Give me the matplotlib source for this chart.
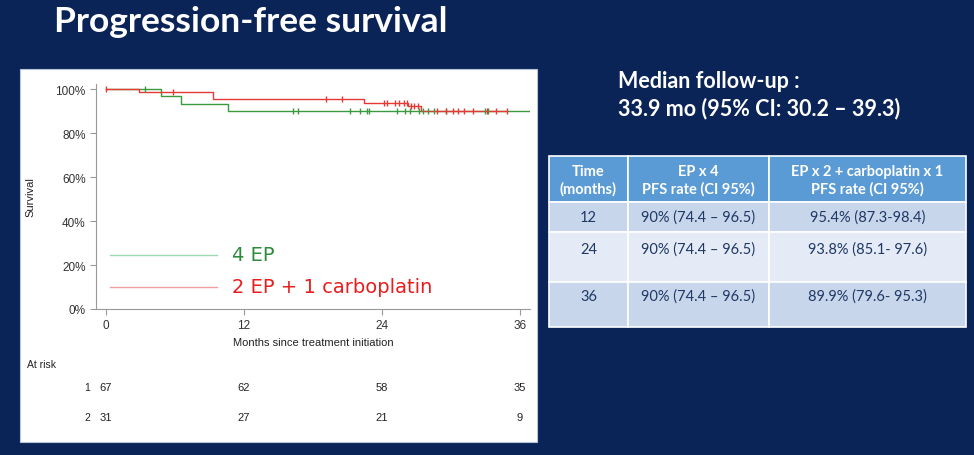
import numpy as np
import matplotlib
matplotlib.use("Agg")
import matplotlib.pyplot as plt
from matplotlib.patches import Rectangle
from matplotlib.transforms import blended_transform_factory

# Kaplan-Meier steps (months, survival %)
ep4_t = [0, 4.8, 6.5, 10.6, 36.9]
ep4_s = [100, 96.7, 93.2, 89.9, 89.9]
ep4_cens_t = [3.4, 16.3, 16.7, 21.2, 22.1, 22.7, 22.9, 25.3, 26.0, 26.4, 27.2,
              27.6, 28.0, 28.5, 29.6, 33.0, 33.2]

carbo_t = [0, 2.9, 9.3, 22.4, 26.3, 27.4, 34.9]
carbo_s = [100, 98.5, 95.4, 93.8, 92.4, 89.9, 89.9]
carbo_cens_t = [0, 5.8, 19.1, 20.5, 24.2, 24.4, 25.1, 25.5, 25.9, 26.2, 26.5,
                26.8, 27.1, 28.8, 29.6, 30.2, 30.6, 31.1, 31.9, 33.1, 33.9, 34.9]

risk_times = [0, 12, 24, 36]
risk_ep4 = [67, 62, 58, 35]
risk_carbo = [31, 27, 21, 9]

table_header = ["Time\n(months)", "EP x 4\nPFS rate (CI 95%)", "EP x 2 + carboplatin x 1\nPFS rate (CI 95%)"]
table_time = ["12", "24", "36"]
table_ep4 = ["90% (74.4 \u2013 96.5)", "90% (74.4 \u2013 96.5)", "90% (74.4 \u2013 96.5)"]
table_carbo = ["95.4% (87.3-98.4)", "93.8% (85.1- 97.6)", "89.9% (79.6- 95.3)"]

navy = "#0b2457"
green = "#3a9a3f"
red = "#e53935"


def level(ts, ss, t):
    # survival value of the step curve at time t
    return ss[np.searchsorted(ts, t, side="right") - 1]


W, H = 974, 456
fig = plt.figure(figsize=(W / 100, H / 100), dpi=100, facecolor=navy)

# background axes in pixel coordinates
bg = fig.add_axes([0, 0, 1, 1])
bg.set_xlim(0, W)
bg.set_ylim(H, 0)
bg.axis("off")

bg.text(54, 22, "Progression-free survival", color="white", fontsize=25.5,
        fontweight="bold", family="Lato", va="center", ha="left")
bg.text(618, 81, "Median follow-up :", color="white", fontsize=15.5,
        fontweight="bold", family="Lato", va="center")
bg.text(618, 109, "33.9 mo (95% CI: 30.2 \u2013 39.3)", color="white", fontsize=15.5,
        fontweight="bold", family="Lato", va="center")

# white panel
bg.add_patch(Rectangle((20, 70), 517, 373, facecolor="white", edgecolor="#b8c6dc", lw=0.8))

# table
col_x = [549, 628, 769, 966]
row_y = [157, 203, 233, 283, 328]
fills = ["#5b9bd5", "#c8d6ec", "#e4ebf6", "#c8d6ec"]
txt_col = "#1f3864"
for r in range(4):
    for c in range(3):
        bg.add_patch(Rectangle((col_x[c], row_y[r]), col_x[c + 1] - col_x[c],
                               row_y[r + 1] - row_y[r], facecolor=fills[r],
                               edgecolor="white", lw=1.2))
for c in range(3):
    bg.text((col_x[c] + col_x[c + 1]) / 2, (row_y[0] + row_y[1]) / 2 + 1, table_header[c],
            color="white", fontsize=10.5, fontweight="bold", family="Lato",
            ha="center", va="center", linespacing=1.25)
row_text_y = [218, 250, 297]
for r in range(3):
    vals = [table_time[r], table_ep4[r], table_carbo[r]]
    for c in range(3):
        bg.text((col_x[c] + col_x[c + 1]) / 2, row_text_y[r], vals[c], color=txt_col,
                fontsize=10.5, family="Lato", ha="center", va="center")

# KM plot
ax = fig.add_axes([96 / W, (H - 310) / H, (530 - 96) / W, (310 - 85) / H])
ax.set_facecolor("white")
ax.step(ep4_t, ep4_s, where="post", color=green, lw=1)
ax.step(carbo_t, carbo_s, where="post", color=red, lw=1)
ax.plot(ep4_cens_t, [level(ep4_t, ep4_s, t) for t in ep4_cens_t],
        ls="none", marker="|", ms=4, mew=1, color=green)
ax.plot(carbo_cens_t, [level(carbo_t, carbo_s, t) for t in carbo_cens_t],
        ls="none", marker="|", ms=4, mew=1, color=red)

ax.set_xlim(-0.87, 36.87)
ax.set_ylim(0, 102.3)
ax.set_xticks(risk_times)
ax.set_yticks([0, 20, 40, 60, 80, 100])
ax.set_yticklabels([f"{v}%" for v in [0, 20, 40, 60, 80, 100]])
for s in ["top", "right"]:
    ax.spines[s].set_visible(False)
for s in ["left", "bottom"]:
    ax.spines[s].set_color("#999999")
    ax.spines[s].set_linewidth(0.8)
ax.tick_params(colors="#999999", labelcolor="#333333", labelsize=8.5, length=4, width=0.8)
for lab in ax.get_xticklabels() + ax.get_yticklabels():
    lab.set_family("Liberation Sans")
ax.set_xlabel("Months since treatment initiation", fontsize=8, family="Liberation Sans",
              color="#222222", labelpad=4)
ax.set_ylabel("Survival", fontsize=8, family="Liberation Sans", color="#222222", labelpad=14)

# legend drawn by hand like the slide (pixel coordinates, on top of the plot)
ax.plot([110, 217], [256, 256], color="#9fd9b3", lw=1, transform=bg.transData, clip_on=False)
ax.plot([110, 217], [288, 288], color="#f2a0a0", lw=1, transform=bg.transData, clip_on=False)
ax.text(232, 256, "4 EP", color="#2e8b3e", fontsize=14, family="DejaVu Sans",
        va="center", transform=bg.transData)
ax.text(232, 288, "2 EP + 1 carboplatin", color="#e81e1e", fontsize=14,
        family="DejaVu Sans", va="center", transform=bg.transData)

# numbers at risk
tr = blended_transform_factory(ax.transData, bg.transData)
bg.text(27, 365, "At risk", fontsize=7.5, family="Liberation Sans", color="#222222", va="center")
bg.text(90, 388, "1", fontsize=7.5, family="Liberation Sans", color="#222222", va="center", ha="right")
bg.text(90, 418, "2", fontsize=7.5, family="Liberation Sans", color="#222222", va="center", ha="right")
for t, a, b in zip(risk_times, risk_ep4, risk_carbo):
    ax.text(t, 388, str(a), transform=tr, fontsize=8, family="Liberation Sans",
            color="#222222", ha="center", va="center")
    ax.text(t, 418, str(b), transform=tr, fontsize=8, family="Liberation Sans",
            color="#222222", ha="center", va="center")

fig.savefig("out.png", dpi=100, facecolor=navy)
